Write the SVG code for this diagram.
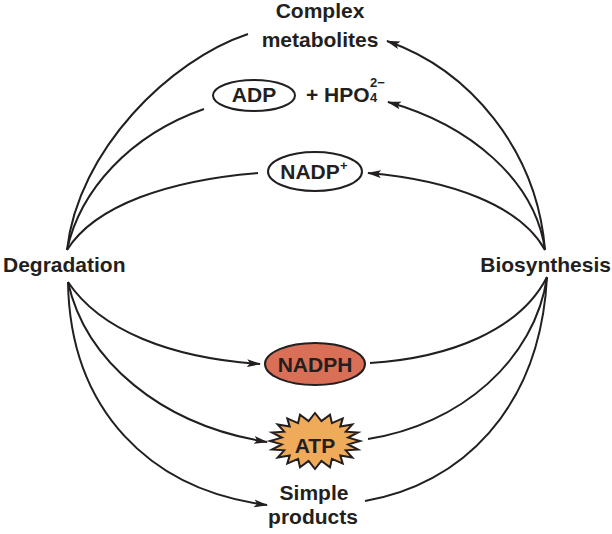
<svg xmlns="http://www.w3.org/2000/svg" width="612" height="534" viewBox="0 0 612 534">
<style>
text{font-family:"Liberation Sans",Arial,sans-serif;font-weight:bold;fill:#231f20}
.lbl{font-size:21px}
.c{fill:none;stroke:#231f20;stroke-width:2}
.node{stroke:#231f20;stroke-width:2}
</style>
<defs>
<marker id="ah" markerUnits="userSpaceOnUse" markerWidth="14" markerHeight="10" refX="13" refY="4" orient="auto">
<path d="M0,0 L14,4 L0,8 L3,4 z" fill="#231f20"/>
</marker>
</defs>
<rect width="612" height="534" fill="#fff"/>
<g id="connectors">
<path class="c" d="M67,250 C78,150 170,60 248,34"/>
<path class="c" d="M67,250 C80,190 130,135 204,109"/>
<path class="c" d="M67,250 C95,205 170,180 258,173"/>
<path class="c" marker-end="url(#ah)" d="M545,250 C537,150 470,70 387,41"/>
<path class="c" marker-end="url(#ah)" d="M545,250 C535,180 470,125 388,102"/>
<path class="c" marker-end="url(#ah)" d="M545,250 C520,205 450,180 368,173"/>
<path class="c" marker-end="url(#ah)" d="M68,282 C100,330 170,358 260,364"/>
<path class="c" marker-end="url(#ah)" d="M68,282 C85,360 160,425 267,442"/>
<path class="c" marker-end="url(#ah)" d="M68,282 C70,410 150,490 267,505"/>
<path class="c" d="M547,277 C520,330 450,358 370,363"/>
<path class="c" d="M547,277 C535,360 460,425 368,439"/>
<path class="c" d="M547,277 C540,410 460,485 365,501"/>
</g>
<g id="complex">
<text class="lbl" x="320" y="18" text-anchor="middle">Complex</text>
<text class="lbl" x="320" y="47" text-anchor="middle">metabolites</text>
</g>
<g id="adp">
<ellipse class="node" cx="254" cy="95.5" rx="41" ry="15.5" fill="#fff"/>
<text class="lbl" x="254" y="102" text-anchor="middle">ADP</text>
</g>
<g id="hpo4">
<text class="lbl" x="306" y="102">+ HPO</text>
<text x="370" y="87" font-size="13">2−</text>
<text x="370" y="102" font-size="13">4</text>
</g>
<g id="nadp">
<ellipse class="node" cx="315" cy="171.5" rx="47" ry="19.5" fill="#fff"/>
<text class="lbl" x="310" y="179" text-anchor="middle">NADP</text>
<text x="340" y="170" font-size="13">+</text>
</g>
<g id="degradation">
<text class="lbl" x="3" y="272">Degradation</text>
</g>
<g id="biosynthesis">
<text class="lbl" x="611" y="272" text-anchor="end">Biosynthesis</text>
</g>
<g id="nadph">
<ellipse class="node" cx="315" cy="364" rx="50" ry="21" fill="#d96f57" stroke-width="1.5"/>
<text class="lbl" x="315" y="372" text-anchor="middle">NADPH</text>
</g>
<g id="atp">
<polygon class="node" stroke-width="1.5" fill="#efaa5a" points="360.0,441.0 348.2,444.4 358.0,449.5 345.8,450.3 352.3,457.5 340.3,455.4 342.7,463.6 331.9,458.9 330.0,467.4 321.4,461.0 315.0,469.0 308.6,461.0 300.0,467.4 298.1,458.9 287.3,463.6 289.7,455.4 277.7,457.5 284.2,450.3 272.0,449.5 281.8,444.4 270.0,441.0 281.8,437.6 272.0,432.5 284.2,431.7 277.7,424.5 289.7,426.6 287.3,418.4 298.1,423.1 300.0,414.6 308.6,421.0 315.0,413.0 321.4,421.0 330.0,414.6 331.9,423.1 342.7,418.4 340.3,426.6 352.3,424.5 345.8,431.7 358.0,432.5 348.2,437.6"/>
<text class="lbl" x="315" y="453" text-anchor="middle">ATP</text>
</g>
<g id="simple">
<text class="lbl" x="314" y="500" text-anchor="middle">Simple</text>
<text class="lbl" x="313" y="524" text-anchor="middle">products</text>
</g>
</svg>
